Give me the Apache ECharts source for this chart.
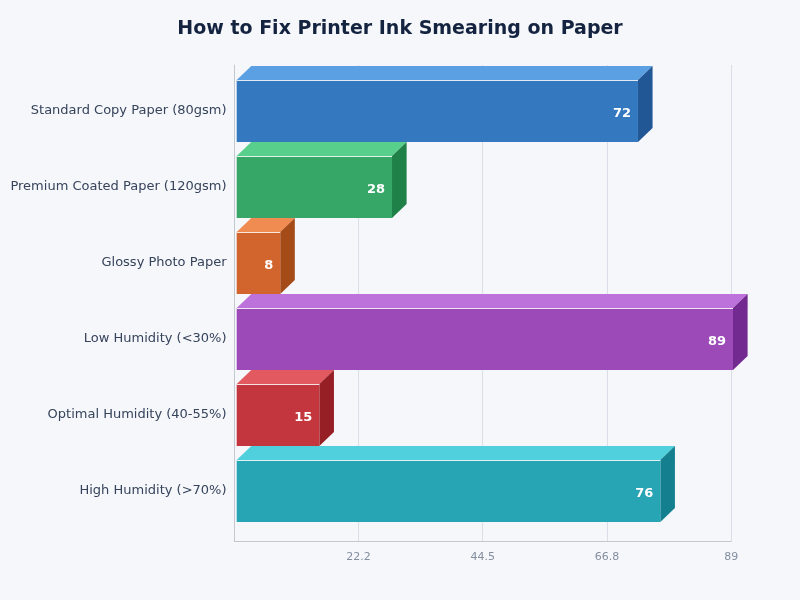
<!DOCTYPE html>
<html><head><meta charset="utf-8">
<style>html,body{margin:0;padding:0;background:#f5f7fb}#c{width:800px;height:600px}</style>
<script src="https://cdn.jsdelivr.net/npm/echarts@6/dist/echarts.min.js"></script>
</head><body><div id="c"></div>
<script>
const categories = ['Standard Copy Paper (80gsm)','Premium Coated Paper (120gsm)','Glossy Photo Paper','Low Humidity (<30%)','Optimal Humidity (40-55%)','High Humidity (>70%)'];
const values = [72,28,8,89,15,76];
const axisMax = 89;
const tickLabels = {'22.25':'22.2','44.5':'44.5','66.75':'66.8','89':'89'};
const frontColors = ['#3478c0','#36a767','#d2652e','#9b4ab8','#c4363d','#28a5b5'];
const topColors = ['#5aa0e2','#58cf8a','#f08c52','#bd71da','#e25a5f','#50d0dc'];
const sideColors = ['#225796','#1f8147','#a54b18','#722a90','#961f25','#14808f'];
const DEPTH_X = 14.6, DEPTH_Y = 14;

const chart = echarts.init(document.getElementById('c'), null, {renderer:'canvas'});
function renderItem(params, api){
  const i = api.value(2);
  const start = api.coord([0, api.value(1)]);
  const end = api.coord([api.value(0), api.value(1)]);
  const h = 62;
  const x0 = start[0]+1.2, x1 = end[0], yt = Math.round(end[1]-h/2), yb = yt+h;
  return {type:'group', children:[
    {type:'polygon', shape:{points:[[x0,yt],[x0+DEPTH_X,yt-DEPTH_Y],[x1+DEPTH_X,yt-DEPTH_Y],[x1,yt]]}, style:{fill:topColors[i]}},
    {type:'polygon', shape:{points:[[x1,yt],[x1+DEPTH_X,yt-DEPTH_Y],[x1+DEPTH_X,yb-DEPTH_Y],[x1,yb]]}, style:{fill:sideColors[i]}},
    {type:'rect', shape:{x:x0,y:yt,width:x1-x0,height:h}, style:{fill:frontColors[i]}},
    {type:'line', shape:{x1:x0,y1:yt+0.5,x2:x1,y2:yt+0.5}, style:{stroke:'rgba(255,255,255,0.85)',lineWidth:1}},
    {type:'text', x:x1-7, y:yt+h/2+2.5, style:{text:String(api.value(0)), fill:'#fff', align:'right', verticalAlign:'middle', font:'bold 13px "DejaVu Sans"'}}
  ]};
}
chart.setOption({
  backgroundColor:'#f5f7fb',
  animation:false,
  title:{text:'How to Fix Printer Ink Smearing on Paper', left:'center', top:15, textStyle:{fontFamily:'DejaVu Sans',fontSize:19,fontWeight:'bold',color:'#14233f'}},
  grid:[
    {left:234.2,width:497,top:65,height:476},
    {left:235.5,width:497.5,top:73,height:456}
  ],
  xAxis:[
    {gridIndex:0,type:'value',min:0,max:axisMax,interval:axisMax/4,
      axisLine:{show:true,lineStyle:{color:'#c3c8d0',width:1}},axisTick:{show:false},
      splitLine:{show:true,lineStyle:{color:'#dadee6',width:1}},
      axisLabel:{color:'#848e9f',fontSize:11,fontFamily:'DejaVu Sans',margin:11,showMinLabel:false,
        formatter:v=>tickLabels[String(v)]||''}},
    {gridIndex:1,type:'value',min:0,max:axisMax,show:false}
  ],
  yAxis:[
    {gridIndex:0,type:'value',min:0,max:1,show:true,axisLine:{show:true,lineStyle:{color:'#c3c8d0',width:1}},axisTick:{show:false},axisLabel:{show:false},splitLine:{show:false}},
    {gridIndex:1,type:'category',data:categories,inverse:true,axisLine:{show:false},axisTick:{show:false},
      axisLabel:{color:'#36435a',fontSize:13,fontFamily:'DejaVu Sans',margin:9}}
  ],
  series:[{type:'custom',xAxisIndex:1,yAxisIndex:1,renderItem,clip:false,
    encode:{x:0,y:1},
    data:values.map((v,i)=>[v,i,i])}]
});
</script></body></html>
